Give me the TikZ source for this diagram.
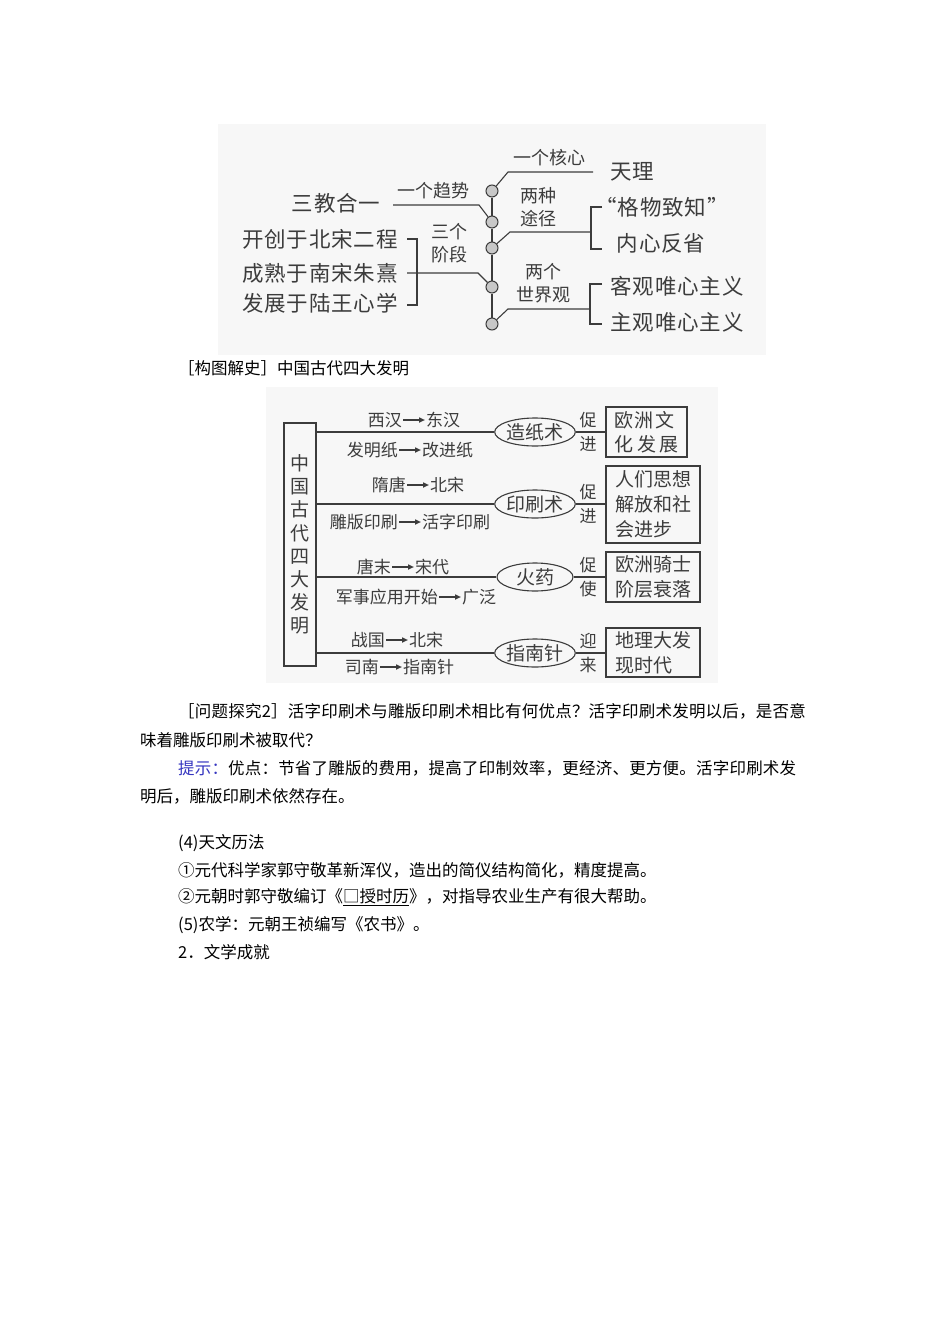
\documentclass[tikz,border=0pt]{standalone}
\usepackage{fontspec}
\setmainfont{Noto Sans CJK SC}
\newfontfamily\widecjk{Noto Sans CJK SC}[LetterSpace=4]
\newfontfamily\bodywide{Noto Sans CJK SC}[LetterSpace=1.3]
\usetikzlibrary{arrows.meta,shapes.geometric,positioning}
\XeTeXlinebreaklocale "zh"
\XeTeXlinebreakskip=0pt plus 2pt

\definecolor{inkgray}{HTML}{3C3C3C}
\definecolor{panelgray}{HTML}{F7F7F7}
\definecolor{dotgray}{HTML}{C8C8C8}
\definecolor{hintblue}{HTML}{3535C0}
\newcommand{\fsz}[2]{\fontsize{#1}{#2}\selectfont}

\begin{document}
\begin{tikzpicture}[x=1pt, y=-1pt,
  every node/.style={inner sep=1pt, text=inkgray},
  big/.style={font=\widecjk\fsz{21.5}{24}},
  tag/.style={font=\fsz{18}{23}, align=center},
  lbl/.style={font=\fsz{17}{20}},
  wire/.style={draw=inkgray, line width=1.1pt},
  dot/.style={circle, draw=inkgray, fill=dotgray, line width=1pt,
    minimum size=12pt, inner sep=0pt},
  oval/.style={ellipse, draw=inkgray, line width=1.1pt, minimum width=76pt,
    minimum height=28pt, inner sep=0pt, font=\fsz{19}{22}},
  box/.style={draw=inkgray, line width=1.1pt, inner sep=0pt,
    font=\fsz{19}{25}, align=left},
  flow/.style={-{Triangle[length=6pt, width=5pt]}, draw=inkgray,
    line width=1.6pt},
  body/.style={anchor=west, inner sep=0pt, text=black, font=\fsz{16.5}{20}}]
  \useasboundingbox (0,0) rectangle (950,1344);
  \fill[white] (0,0) rectangle (950,1344);
  \fill[panelgray] (218,124) rectangle (766,355);
  \fill[panelgray] (266,387) rectangle (718,683);

  % lixue chart
  \foreach \i/\y in {1/191, 2/222, 3/248, 4/287, 5/324}
    \node[dot] (c\i) at (492,\y) {};
  \draw[wire] (c1) -- (c2) -- (c3) -- (c4) -- (c5);

  \node[tag] (hexin) at (549,158) {一个核心};
  \node[big] (tianli) at (632,172) {天理};
  \coordinate (k1) at (508,172);
  \coordinate (k2) at (593,172);
  \draw[wire] (c1) -- (k1) -- (k2);

  \node[big] (sanjiao) at (336,203) {三教合一};
  \node[tag] (qushi) at (433,191) {一个趋势};
  \coordinate (g1) at (393,205);
  \coordinate (g2) at (479,205);
  \draw[wire] (g1) -- (g2) -- (c2);

  \node[tag] (tujing) at (538,207) {两种\\途径};
  \coordinate (t1) at (510,232);
  \coordinate (t2) at (591,232);
  \draw[wire] (c3) -- (t1) -- (t2);
  \node[big] (gewu) at (662,207) {“格物致知”};
  \node[big] (neixin) at (661,243) {内心反省};
  \draw[wire] (602,207) -- (591,207) -- (591,249) -- (602,249);

  \node[big] (kaichuang) at (320,239) {开创于北宋二程};
  \node[big] (chengshu) at (320,273) {成熟于南宋朱熹};
  \node[big] (fazhan) at (320,303) {发展于陆王心学};
  \node[tag] (jieduan) at (449,243) {三个\\阶段};
  \coordinate (s0) at (407,273);
  \coordinate (s1) at (478,273);
  \draw[wire] (407,239) -- (417,239) -- (417,305) -- (407,305);
  \draw[wire] (s0) -- (s1) -- (c4);

  \node[tag] (shijie) at (543,283) {两个\\世界观};
  \coordinate (w1) at (508,309);
  \coordinate (w2) at (590,309);
  \draw[wire] (c5) -- (w1) -- (w2);
  \draw[wire] (602,284) -- (590,284) -- (590,324) -- (602,324);
  \node[big] (keguan) at (677,286) {客观唯心主义};
  \node[big] (zhuguan) at (677,322) {主观唯心主义};

  % four inventions chart
  \node[draw=inkgray, line width=1.1pt, minimum width=32pt,
    minimum height=243pt, inner sep=0pt, align=center,
    font=\fsz{19}{23.2}] (sida) at (300,544.5)
    {中\\国\\古\\代\\四\\大\\发\\明};

  \node[oval] (zhi) at (535,432) {造纸术};
  \node[oval] (yin) at (535,504) {印刷术};
  \node[oval] (huo) at (535,577) {火药};
  \node[oval] (zhen) at (535,653) {指南针};

  \node[box, minimum width=81pt, minimum height=50pt, font=\fsz{19}{24}]
    (wenhua) at (646.5,432)
    {\makebox[60pt]{欧\hfill 洲\hfill 文}\\\makebox[64pt]{化\hfill 发\hfill 展}};
  \node[box, minimum width=94pt, minimum height=77pt] (sixiang) at (653,504.5)
    {人们思想\\解放和社\\会进步};
  \node[box, minimum width=94pt, minimum height=50pt] (qishi) at (653,577)
    {欧洲骑士\\阶层衰落};
  \node[box, minimum width=94pt, minimum height=49pt] (dili) at (653,652.5)
    {地理大发\\现时代};

  \foreach \e/\b/\p/\q in {zhi/wenhua/促/进, yin/sixiang/促/进,
      huo/qishi/促/使, zhen/dili/迎/来} {
    \draw[wire] (sida.east |- \e) -- (\e);
    \draw[wire] (\e) -- (\b.west |- \e);
    \node[lbl] (\e-p) at ([xshift=53pt, yshift=12pt]\e.center) {\p};
    \node[lbl] (\e-q) at ([xshift=53pt, yshift=-12pt]\e.center) {\q};
  }

  \foreach \n/\x/\y/\a/\b in {
      za/414/420/西汉/东汉, zb/410/450/发明纸/改进纸,
      ya/418/485/隋唐/北宋, yb/410/522/雕版印刷/活字印刷,
      ha/403/567/唐末/宋代, hb/450/597/军事应用开始/广泛,
      na/397/640/战国/北宋, nb/391/667/司南/指南针} {
    \node[lbl, anchor=east] (\n1) at ({\x-11},\y) {\a};
    \node[lbl, anchor=west] (\n2) at ({\x+11},\y) {\b};
    \draw[flow] (\n1) -- (\n2);
  }

  % page text
  \node[body] (caption) at (178,368) {［构图解史］中国古代四大发明};
  \node[body] (ask1) at (178,711)
    {\bodywide［问题探究2］活字印刷术与雕版印刷术相比有何优点？活字印刷术发明以后，是否意};
  \node[body] (ask2) at (140,740) {味着雕版印刷术被取代？};
  \node[body] (hint1) at (178,768)
    {\bodywide\textcolor{hintblue}{提示：}优点：节省了雕版的费用，提高了印制效率，更经济、更方便。活字印刷术发};
  \node[body] (hint2) at (140,796) {明后，雕版印刷术依然存在。};
  \node[body] (tianwen) at (178,843) {(4)天文历法};
  \node[body] (item1) at (178,870)
    {①元代科学家郭守敬革新浑仪，造出的简仪结构简化，精度提高。};
  \node[body] (item2) at (178,897)
    {②元朝时郭守敬编订《\underline{□授时历}》，对指导农业生产有很大帮助。};
  \node[body] (nongxue) at (178,925) {(5)农学：元朝王祯编写《农书》。};
  \node[body] (wenxue) at (178,952) {2．文学成就};
\end{tikzpicture}
\end{document}
